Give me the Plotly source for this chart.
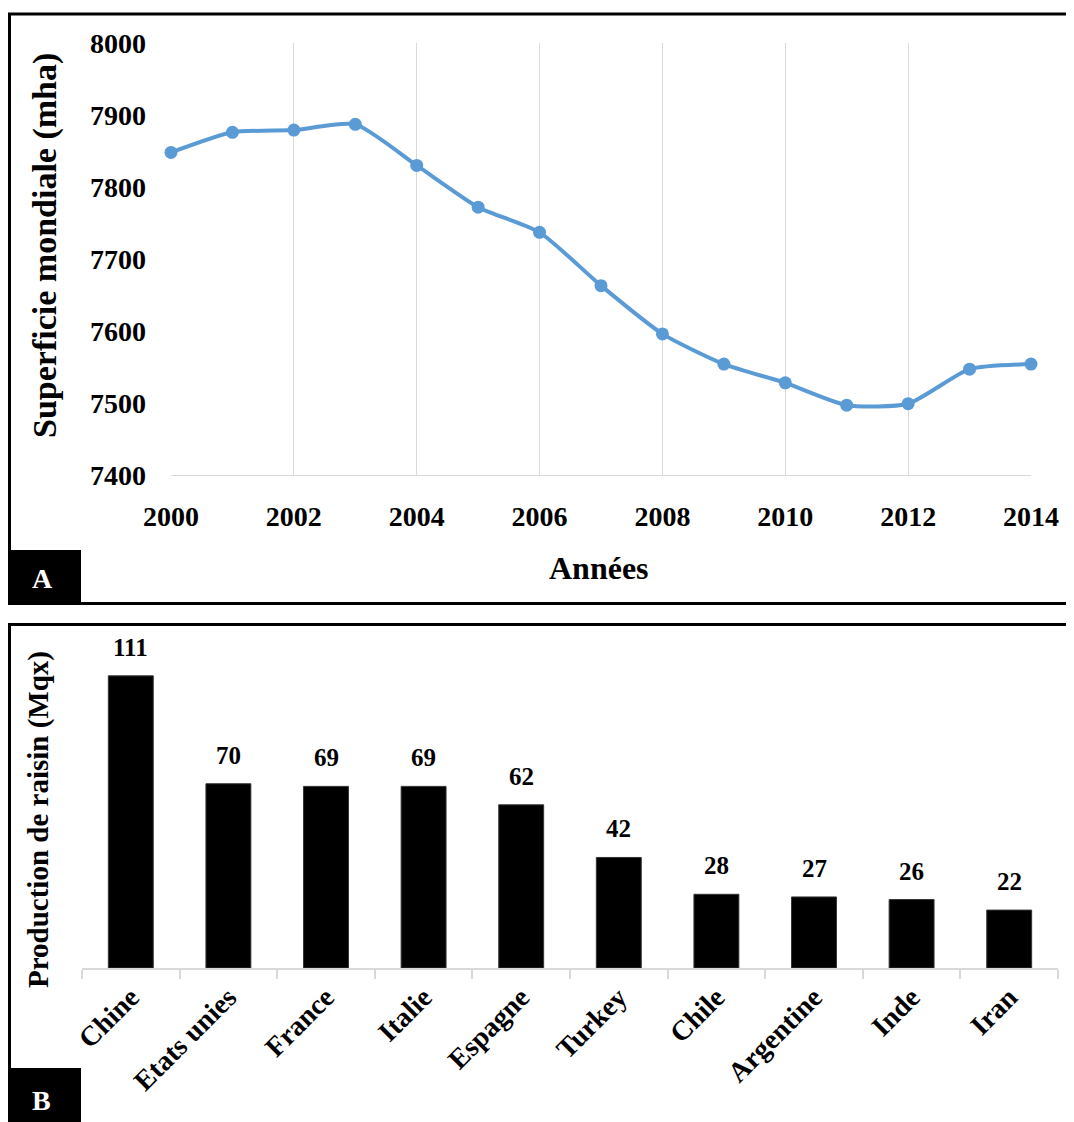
import plotly.graph_objects as go

# ---- Data ----
years = [2000, 2001, 2002, 2003, 2004, 2005, 2006, 2007, 2008, 2009, 2010, 2011, 2012, 2013, 2014]
superficie = [7848, 7876, 7879, 7887, 7830, 7772, 7737, 7663, 7596, 7554, 7528, 7497, 7499, 7547, 7554]

pays = ["Chine", "Etats unies", "France", "Italie", "Espagne", "Turkey", "Chile", "Argentine", "Inde", "Iran"]
production = [111, 70, 69, 69, 62, 42, 28, 27, 26, 22]

y_ticks_a = [7400, 7500, 7600, 7700, 7800, 7900, 8000]
x_ticks_a = [2000, 2002, 2004, 2006, 2008, 2010, 2012, 2014]

# The page body has an 8px default margin, so the figure is drawn 8px in.
OFF = 8
W, H = 1074 - OFF, 1122 - OFF
FONT = "Liberation Serif, Times New Roman, serif"


def px(x):
    return (x - OFF) / W


def py(y):
    return 1 - (y - OFF) / H


fig = go.Figure()

fig.add_trace(go.Scatter(
    x=years, y=superficie, mode="lines+markers",
    line=dict(color="#5B9BD5", width=4, shape="spline", smoothing=0.6),
    marker=dict(color="#5B9BD5", size=13),
    cliponaxis=False, xaxis="x", yaxis="y", showlegend=False,
))

fig.add_trace(go.Bar(
    x=pays, y=production,
    marker=dict(color="black", line=dict(color="#333333", width=1)),
    cliponaxis=False, xaxis="x2", yaxis="y2", showlegend=False,
))

tickfont = dict(family=FONT, size=28, color="black")

value_labels = [
    dict(text=f"<b>{v}</b>", x=p, y=v, xref="x2", yref="y2",
         xanchor="center", yanchor="bottom", yshift=13, showarrow=False,
         font=dict(family=FONT, size=25, color="black"))
    for p, v in zip(pays, production)
]


def note(text, x, y, size, color="black", angle=0):
    return dict(text=text, textangle=angle, x=px(x), y=py(y),
                xref="paper", yref="paper", xanchor="center", yanchor="middle",
                showarrow=False, font=dict(family=FONT, size=size, color=color))


fig.update_layout(
    width=W, height=H,
    margin=dict(l=0, r=0, t=0, b=0, pad=0, autoexpand=False),
    paper_bgcolor="white", plot_bgcolor="white",
    font=dict(family=FONT, color="black"),
    bargap=0.54,
    xaxis=dict(
        domain=[px(171), px(1031)], range=[2000, 2014],
        tickvals=x_ticks_a, ticktext=[f"<b>{v}</b>" for v in x_ticks_a],
        tickfont=tickfont, showgrid=True, gridcolor="#D9D9D9", gridwidth=1.2,
        showline=True, linecolor="#D9D9D9", linewidth=1.2,
        ticks="", ticklabelstandoff=16, zeroline=False, anchor="y", automargin=False,
    ),
    yaxis=dict(
        domain=[py(475), py(43)], range=[7400, 8000],
        tickvals=y_ticks_a, ticktext=[f"<b>{v}</b>" for v in y_ticks_a],
        tickfont=tickfont, showgrid=False, showline=False, zeroline=False,
        ticks="", ticklabelstandoff=24, anchor="x", automargin=False,
    ),
    xaxis2=dict(
        domain=[px(82), px(1058)], type="category",
        tickvals=pays, ticktext=[f"<b>{p}</b>" for p in pays],
        tickfont=tickfont, tickangle=-45,
        showline=True, linecolor="#D9D9D9", linewidth=1.5,
        ticks="outside", tickson="boundaries", ticklen=9, tickcolor="#D9D9D9", tickwidth=1.5,
        showgrid=False, anchor="y2", automargin=False,
    ),
    yaxis2=dict(
        domain=[py(968), py(639)], range=[0, 125],
        visible=False, anchor="x2", automargin=False,
    ),
    shapes=[
        dict(type="rect", xref="paper", yref="paper",
             x0=px(9.5), x1=1.05, y0=py(603.5), y1=py(14),
             line=dict(color="black", width=3), fillcolor="rgba(0,0,0,0)", layer="above"),
        dict(type="rect", xref="paper", yref="paper",
             x0=px(9.5), x1=1.05, y0=-0.05, y1=py(624.5),
             line=dict(color="black", width=3), fillcolor="rgba(0,0,0,0)", layer="above"),
        dict(type="rect", xref="paper", yref="paper",
             x0=px(9), x1=px(81), y0=py(604), y1=py(550),
             line=dict(width=0), fillcolor="black", layer="above"),
        dict(type="rect", xref="paper", yref="paper",
             x0=px(9), x1=px(81), y0=-0.01, y1=py(1068),
             line=dict(width=0), fillcolor="black", layer="above"),
    ],
    annotations=value_labels + [
        note("<b>Superficie mondiale (mha)</b>", 45, 246, 34, angle=-90),
        note("<b>Années</b>", 599, 568, 32),
        note("<b>Production de raisin (Mqx)</b>", 38, 820, 29, angle=-90),
        note("<b>A</b>", 42, 578, 28, color="white"),
        note("<b>B</b>", 41, 1100, 28, color="white"),
    ],
)

fig.write_html("out.html")
